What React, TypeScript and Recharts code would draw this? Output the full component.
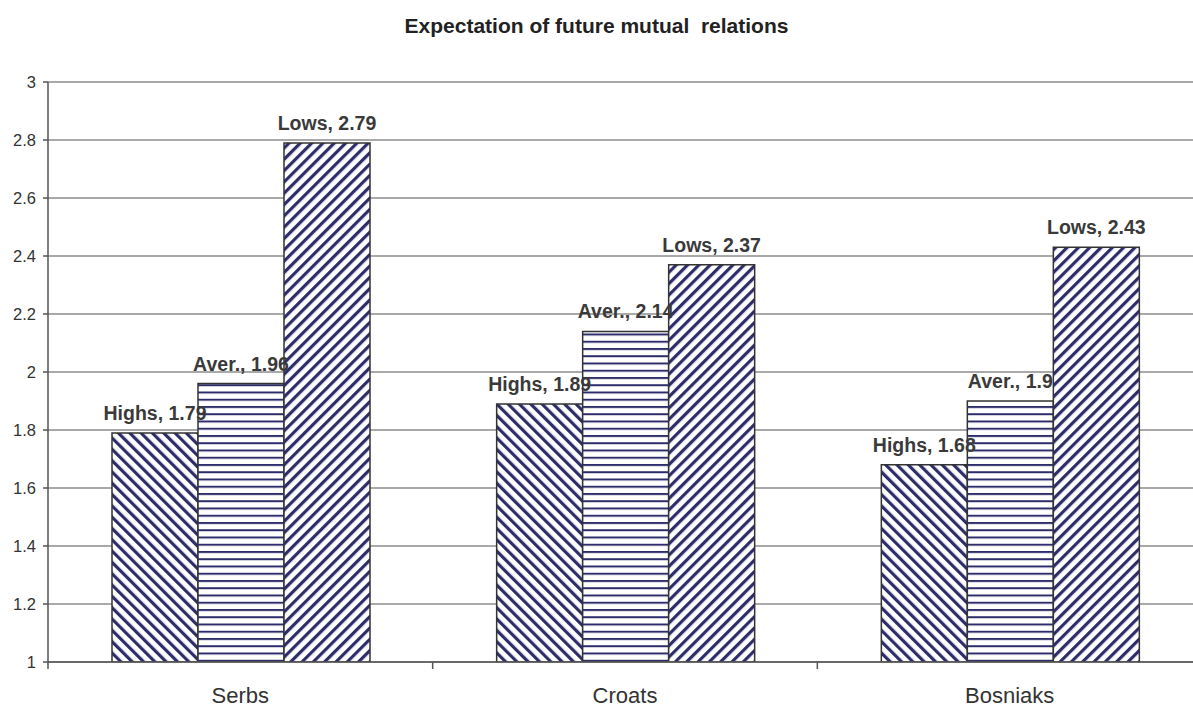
import React from 'react';
import {
  BarChart, Bar, XAxis, YAxis, CartesianGrid, LabelList,
} from 'recharts';

const groups = ['Serbs', 'Croats', 'Bosniaks'];
const highs = [1.79, 1.89, 1.68];
const aver = [1.96, 2.14, 1.9];
const lows = [2.79, 2.37, 2.43];
const yTicks = [1, 1.2, 1.4, 1.6, 1.8, 2, 2.2, 2.4, 2.6, 2.8, 3];

const series = [
  { key: 'Highs', values: highs, fill: 'url(#pHighs)' },
  { key: 'Aver.', values: aver, fill: 'url(#pAver)' },
  { key: 'Lows', values: lows, fill: 'url(#pLows)' },
];

const data = groups.map((g, i) => ({
  name: g,
  Highs: highs[i],
  'Aver.': aver[i],
  Lows: lows[i],
}));

const NAVY = '#2d2d6b';
const FONT = 'Arial, "Liberation Sans", sans-serif';

const CategoryTick = (props: any) => {
  const { x, y, payload } = props;
  const half = payload?.offset ?? 192.3;
  return (
    <g>
      <line x1={x - half} y1={y} x2={x - half} y2={y + 7} stroke="#555" strokeWidth={1.5} />
      <text x={x} y={y + 41} textAnchor="middle" fontFamily={FONT} fontSize={22} fill="#333">
        {payload.value}
      </text>
    </g>
  );
};

const makeLabel = (name: string) => (props: any) => {
  const { x, y, width, value } = props;
  return (
    <text
      x={x + width / 2}
      y={y - 13}
      textAnchor="middle"
      fontFamily={FONT}
      fontSize={19.5}
      fontWeight="bold"
      fill="#3a3a3a"
    >
      {`${name}, ${value}`}
    </text>
  );
};

export default function App() {
  return (
    <div style={{ position: 'absolute', left: 0, top: 0, width: 1193, height: 707, overflow: 'hidden', background: '#fff' }}>
      <div
        style={{
          position: 'absolute', left: 0, top: 15, width: 1193, textAlign: 'center',
          fontFamily: FONT, fontWeight: 'bold', fontSize: 21, lineHeight: '22px', color: '#222', whiteSpace: 'pre',
        }}
      >
        Expectation of future mutual  relations
      </div>
      <BarChart
        width={1210}
        height={707}
        data={data}
        margin={{ top: 82, right: 8, left: 0, bottom: 0 }}
        barCategoryGap={64}
        barGap={0}
      >
        <defs>
          <pattern id="pHighs" patternUnits="userSpaceOnUse" width={8} height={8} patternTransform="rotate(-45)">
            <rect width={8} height={8} fill="#fff" />
            <rect x={0} y={0} width={3.2} height={8} fill={NAVY} />
          </pattern>
          <pattern id="pLows" patternUnits="userSpaceOnUse" width={8} height={8} patternTransform="rotate(45)">
            <rect width={8} height={8} fill="#fff" />
            <rect x={0} y={0} width={3.2} height={8} fill={NAVY} />
          </pattern>
          <pattern id="pAver" patternUnits="userSpaceOnUse" width={8} height={7.25}>
            <rect width={8} height={7.25} fill="#fff" />
            <rect x={0} y={0} width={8} height={2} fill={NAVY} />
          </pattern>
        </defs>
        <CartesianGrid vertical={false} stroke="#8c8c8c" strokeWidth={1.5} />
        <XAxis
          dataKey="name"
          height={45}
          axisLine={{ stroke: '#555', strokeWidth: 1.5 }}
          tickLine={false}
          tickSize={0}
          tickMargin={0}
          tick={<CategoryTick />}
          interval={0}
        />
        <YAxis
          width={48}
          domain={[1, 3]}
          ticks={yTicks}
          allowDataOverflow
          axisLine={{ stroke: '#555', strokeWidth: 1.5 }}
          tickLine={{ stroke: '#555', strokeWidth: 1.5 }}
          tickSize={5}
          tickMargin={7}
          tick={{ fontFamily: FONT, fontSize: 16.5, fill: '#333' }}
        />
        {series.map((s) => (
          <Bar
            key={s.key}
            dataKey={s.key}
            fill={s.fill}
            stroke="#333"
            strokeWidth={1.5}
            isAnimationActive={false}
          >
            <LabelList dataKey={s.key} content={makeLabel(s.key)} />
          </Bar>
        ))}
      </BarChart>
    </div>
  );
}
